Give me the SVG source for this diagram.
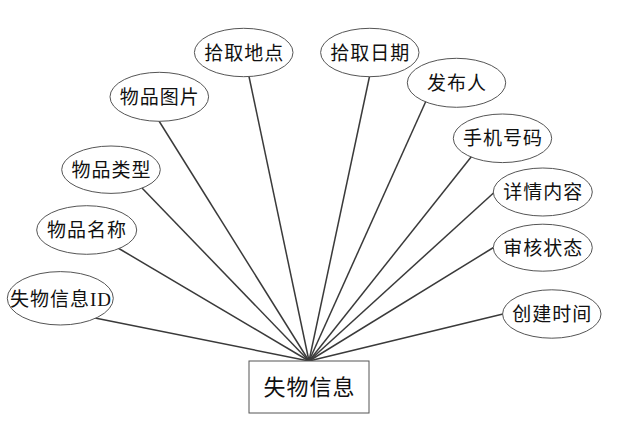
<svg xmlns="http://www.w3.org/2000/svg" width="618" height="427" viewBox="0 0 618 427">
<style>
.attr ellipse{fill:#fff;stroke:#555;stroke-width:1}
.ent rect{fill:#fff;stroke:#555;stroke-width:1}
text{font-family:"Liberation Serif","Noto Sans CJK SC",serif;font-size:19px;fill:#111;text-anchor:middle;letter-spacing:1px}
.ent text{font-size:22px}
#edges line{stroke:#3a3a3a;stroke-width:1.5}
</style>
<rect width="618" height="427" fill="#fff"/>
<g id="edges">
<line x1="309" y1="361" x2="95" y2="318"/>
<line x1="309" y1="361" x2="118" y2="248"/>
<line x1="309" y1="361" x2="142" y2="188"/>
<line x1="309" y1="361" x2="159" y2="121"/>
<line x1="309" y1="361" x2="249" y2="76.5"/>
<line x1="309" y1="361" x2="369.5" y2="76.5"/>
<line x1="309" y1="361" x2="426" y2="101"/>
<line x1="309" y1="361" x2="471.5" y2="156.5"/>
<line x1="309" y1="361" x2="493.5" y2="193"/>
<line x1="309" y1="361" x2="493.5" y2="247.5"/>
<line x1="309" y1="361" x2="503" y2="314"/>
</g>
<g id="n_id" class="attr"><ellipse cx="60.3" cy="298.3" rx="53" ry="26.7"/><text x="61" y="305.5">失物信息ID</text></g>
<g id="n_name" class="attr"><ellipse cx="86.7" cy="230" rx="50" ry="24.3"/><text x="87" y="237">物品名称</text></g>
<g id="n_type" class="attr"><ellipse cx="111" cy="169.7" rx="49.3" ry="23.7"/><text x="111.5" y="176.5">物品类型</text></g>
<g id="n_pic" class="attr"><ellipse cx="159.3" cy="96.8" rx="49.3" ry="24.5"/><text x="159.8" y="103.5">物品图片</text></g>
<g id="n_place" class="attr"><ellipse cx="243.7" cy="52.5" rx="49.3" ry="24.2"/><text x="244.2" y="59.5">拾取地点</text></g>
<g id="n_date" class="attr"><ellipse cx="369.8" cy="52.5" rx="49.2" ry="24.2"/><text x="370.3" y="59.5">拾取日期</text></g>
<g id="n_pub" class="attr"><ellipse cx="456.5" cy="82.8" rx="49.2" ry="24.5"/><text x="457" y="89.5">发布人</text></g>
<g id="n_phone" class="attr"><ellipse cx="502.5" cy="138.3" rx="49.2" ry="24.3"/><text x="503" y="145.3">手机号码</text></g>
<g id="n_detail" class="attr"><ellipse cx="542.8" cy="192" rx="49.5" ry="24"/><text x="543.3" y="199">详情内容</text></g>
<g id="n_status" class="attr"><ellipse cx="542.8" cy="247.7" rx="49.5" ry="23.5"/><text x="543.3" y="254.5">审核状态</text></g>
<g id="n_created" class="attr"><ellipse cx="551.8" cy="314" rx="49.2" ry="24.2"/><text x="552.3" y="321">创建时间</text></g>
<g id="n_entity" class="ent"><rect x="249" y="361" width="120" height="52"/><text x="309.5" y="395">失物信息</text></g>
</svg>
